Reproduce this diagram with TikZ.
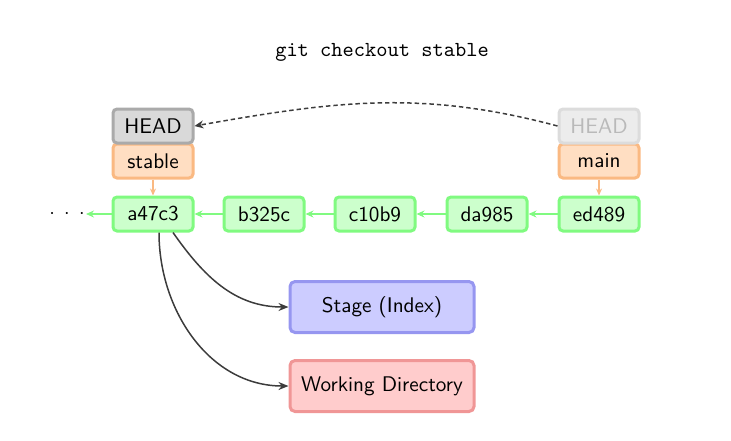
\documentclass[tikz,border=0pt]{standalone}
\usetikzlibrary{arrows.meta}
\definecolor{commitfill}{RGB}{204,255,204}
\definecolor{commitdraw}{RGB}{128,250,128}
\definecolor{branchfill}{RGB}{255,222,194}
\definecolor{branchdraw}{RGB}{250,185,130}
\definecolor{headfill}{RGB}{217,217,217}
\definecolor{headdraw}{RGB}{170,170,170}
\definecolor{ghostfill}{RGB}{236,236,236}
\definecolor{ghostdraw}{RGB}{220,220,220}
\definecolor{ghosttext}{RGB}{185,185,185}
\definecolor{stagefill}{RGB}{204,204,255}
\definecolor{stagedraw}{RGB}{150,150,240}
\definecolor{wdfill}{RGB}{255,204,204}
\definecolor{wddraw}{RGB}{240,150,150}
\definecolor{arrowdark}{RGB}{60,60,60}
\begin{document}
\begin{tikzpicture}[x=0.5pt,y=-0.5pt,
  box/.style={rounded corners=2pt, line width=1.5pt, minimum width=40pt, minimum height=17pt, inner sep=0pt, font=\sffamily\fontsize{10.6}{12}\selectfont},
  commit/.style={box, fill=commitfill, draw=commitdraw},
  branch/.style={box, fill=branchfill, draw=branchdraw},
  headbox/.style={box, fill=headfill, draw=headdraw},
  ghost/.style={box, fill=ghostfill, draw=ghostdraw, text=ghosttext},
  area/.style={rounded corners=2.5pt, line width=1.5pt, minimum width=92pt, minimum height=25.5pt, inner sep=0pt, font=\sffamily\fontsize{10.6}{12}\selectfont},
  parent/.style={-{Stealth[length=4pt,width=3.5pt]}, draw=commitdraw, line width=0.8pt},
  ptr/.style={-{Stealth[length=3.5pt,width=3pt]}, draw=branchdraw, line width=0.7pt},
  dark/.style={-{Stealth[length=5pt,width=4pt]}, draw=arrowdark, line width=0.75pt}
]
\useasboundingbox (0,0) rectangle (731,440);
\node[font=\ttfamily\fontsize{10.7}{12}\selectfont] (title) at (382,52) {git checkout stable};

\node[commit] (a) at (153,214) {a47c3};
\node[commit] (b) at (264,214) {b325c};
\node[commit] (c) at (375,214) {c10b9};
\node[commit] (d) at (487,214) {da985};
\node[commit] (e) at (599,214) {ed489};
\node[inner sep=0pt] (dots) at (67,214) {$\mathord{\cdot}\hspace{4.7pt}\mathord{\cdot}\hspace{4.7pt}\mathord{\cdot}$};

\node[branch] (stable) at (153,161) {stable};
\node[headbox] (head) at (153,126) {HEAD};
\node[branch] (main) at (599,161) {main};
\node[ghost] (oldhead) at (599,126) {HEAD};

\node[area, fill=stagefill, draw=stagedraw] (stage) at (382,307) {Stage (Index)};
\node[area, fill=wdfill, draw=wddraw] (wd) at (382,386) {Working Directory};

\draw[parent] (e) -- (d);
\draw[parent] (d) -- (c);
\draw[parent] (c) -- (b);
\draw[parent] (b) -- (a);
\draw[parent] (a) -- (86,214);
\draw[ptr] (stable) -- (a);
\draw[ptr] (main) -- (e);

\draw[dark, dash pattern=on 2.2pt off 1.5pt, -{Stealth[length=4.5pt,width=4pt]}] (oldhead.west) to[out=165,in=10] (head.east);
\draw[dark] ([xshift=10pt]a.south) to[out=-55,in=180] (stage.west);
\draw[dark] ([xshift=3pt]a.south) to[out=-90,in=180] (wd.west);
\end{tikzpicture}
\end{document}
